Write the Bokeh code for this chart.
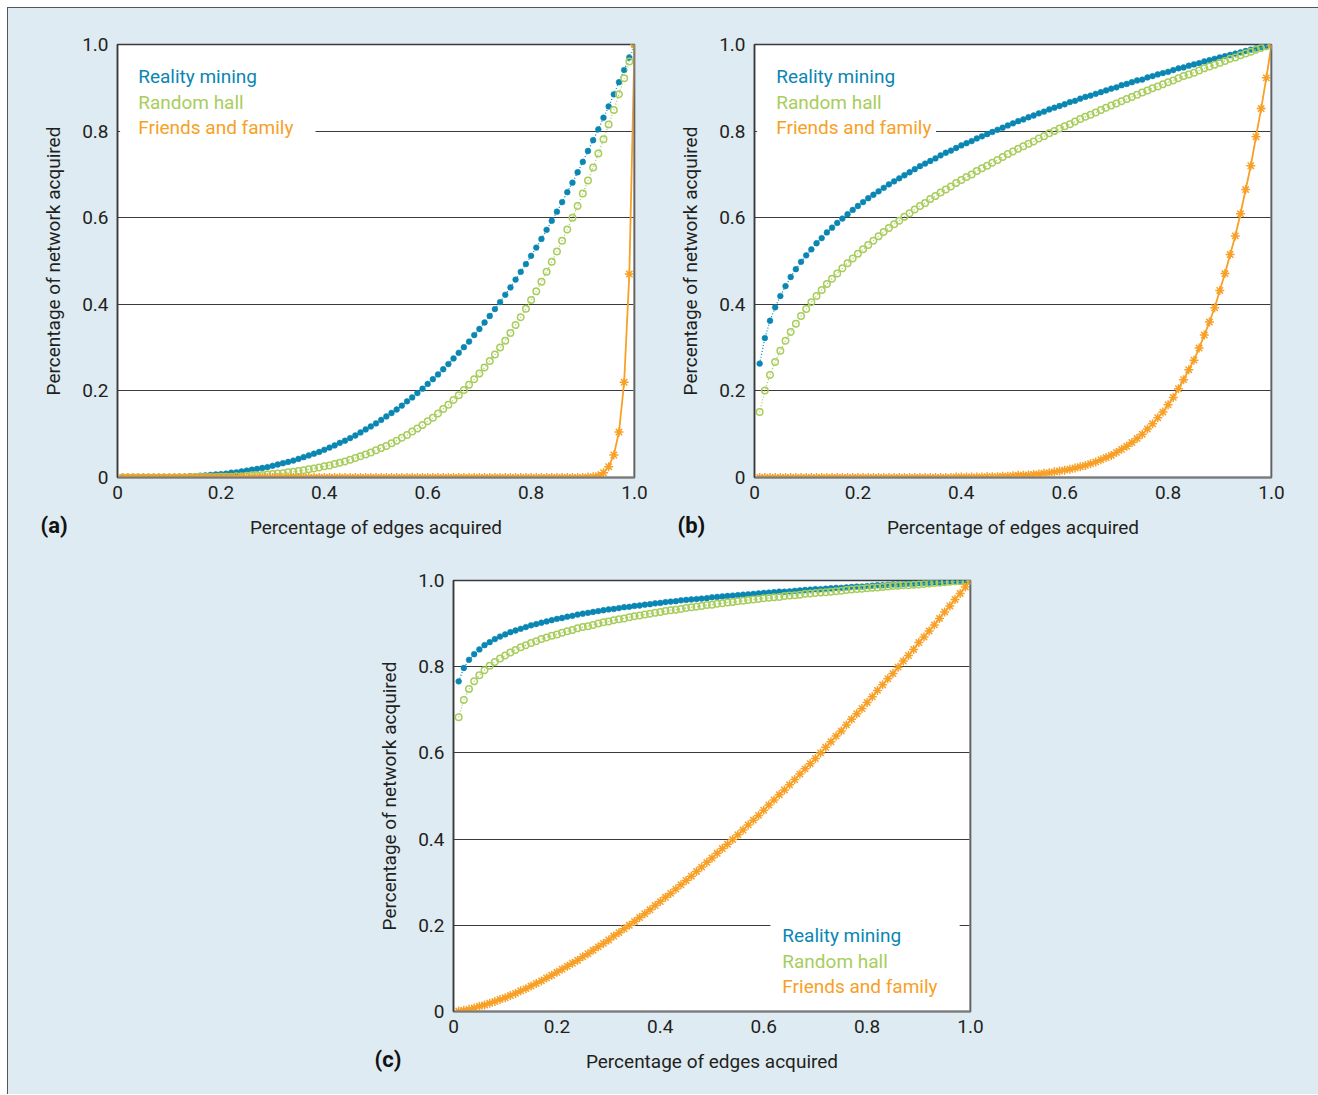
from bokeh.plotting import figure
from bokeh.layouts import row, column
from bokeh.models import (Range1d, FixedTicker, PrintfTickFormatter, Label,
                          BoxAnnotation, Span, Spacer, Title)
from bokeh.embed import file_html
from bokeh.resources import INLINE

# ---------------- data ----------------
X = [i / 100 for i in range(1, 101)]

TICKS = [0, 0.2, 0.4, 0.6, 0.8, 1.0]
TICK_LABELS = ["0", "0.2", "0.4", "0.6", "0.8", "1.0"]
GRID_TICKS = [0.2, 0.4, 0.6, 0.8]
SERIES = ["Reality mining", "Random hall", "Friends and family"]

a_reality = [
    0.000, 0.000, 0.000, 0.000, 0.000, 0.000, 0.000, 0.001, 0.001, 0.001,
    0.001, 0.002, 0.002, 0.003, 0.003, 0.004, 0.005, 0.006, 0.007, 0.008,
    0.009, 0.011, 0.012, 0.014, 0.016, 0.018, 0.020, 0.022, 0.024, 0.027,
    0.030, 0.033, 0.036, 0.039, 0.043, 0.047, 0.051, 0.055, 0.059, 0.064,
    0.069, 0.074, 0.080, 0.085, 0.091, 0.097, 0.104, 0.111, 0.118, 0.125,
    0.133, 0.141, 0.149, 0.157, 0.166, 0.176, 0.185, 0.195, 0.205, 0.216,
    0.227, 0.238, 0.250, 0.262, 0.275, 0.288, 0.301, 0.314, 0.329, 0.343,
    0.358, 0.373, 0.389, 0.405, 0.422, 0.439, 0.457, 0.475, 0.493, 0.512,
    0.531, 0.551, 0.572, 0.593, 0.614, 0.636, 0.659, 0.681, 0.705, 0.729,
    0.754, 0.779, 0.804, 0.831, 0.857, 0.885, 0.913, 0.941, 0.970, 1.000]
a_random = [
    0.000, 0.000, 0.000, 0.000, 0.000, 0.000, 0.000, 0.000, 0.000, 0.000,
    0.000, 0.000, 0.000, 0.000, 0.001, 0.001, 0.001, 0.001, 0.001, 0.002,
    0.002, 0.002, 0.003, 0.003, 0.004, 0.005, 0.005, 0.006, 0.007, 0.008,
    0.009, 0.010, 0.012, 0.013, 0.015, 0.017, 0.019, 0.021, 0.023, 0.026,
    0.028, 0.031, 0.034, 0.037, 0.041, 0.045, 0.049, 0.053, 0.058, 0.063,
    0.068, 0.073, 0.079, 0.085, 0.092, 0.098, 0.106, 0.113, 0.121, 0.130,
    0.138, 0.148, 0.158, 0.168, 0.179, 0.190, 0.202, 0.214, 0.227, 0.240,
    0.254, 0.269, 0.284, 0.300, 0.316, 0.334, 0.352, 0.370, 0.390, 0.410,
    0.430, 0.452, 0.475, 0.498, 0.522, 0.547, 0.573, 0.600, 0.627, 0.656,
    0.686, 0.716, 0.748, 0.781, 0.815, 0.849, 0.885, 0.922, 0.961, 1.000]
a_friends = [
    0.000, 0.000, 0.000, 0.000, 0.000, 0.000, 0.000, 0.000, 0.000, 0.000,
    0.000, 0.000, 0.000, 0.000, 0.000, 0.000, 0.000, 0.000, 0.000, 0.000,
    0.000, 0.000, 0.000, 0.000, 0.000, 0.000, 0.000, 0.000, 0.000, 0.000,
    0.000, 0.000, 0.000, 0.000, 0.000, 0.000, 0.000, 0.000, 0.000, 0.000,
    0.000, 0.000, 0.000, 0.000, 0.000, 0.000, 0.000, 0.000, 0.000, 0.000,
    0.000, 0.000, 0.000, 0.000, 0.000, 0.000, 0.000, 0.000, 0.000, 0.000,
    0.000, 0.000, 0.000, 0.000, 0.000, 0.000, 0.000, 0.000, 0.000, 0.000,
    0.000, 0.000, 0.000, 0.000, 0.000, 0.000, 0.000, 0.000, 0.000, 0.000,
    0.000, 0.000, 0.000, 0.000, 0.000, 0.000, 0.000, 0.000, 0.000, 0.000,
    0.001, 0.002, 0.004, 0.011, 0.025, 0.052, 0.105, 0.220, 0.470, 1.000]

b_reality = [
    0.263, 0.322, 0.362, 0.393, 0.419, 0.442, 0.463, 0.481, 0.498, 0.513,
    0.527, 0.541, 0.553, 0.566, 0.577, 0.588, 0.598, 0.608, 0.618, 0.627,
    0.636, 0.645, 0.653, 0.661, 0.669, 0.677, 0.684, 0.691, 0.698, 0.705,
    0.712, 0.719, 0.725, 0.731, 0.737, 0.744, 0.750, 0.755, 0.761, 0.767,
    0.772, 0.777, 0.783, 0.788, 0.793, 0.798, 0.803, 0.808, 0.813, 0.818,
    0.823, 0.827, 0.832, 0.836, 0.841, 0.845, 0.850, 0.854, 0.858, 0.862,
    0.867, 0.870, 0.875, 0.879, 0.882, 0.886, 0.890, 0.894, 0.898, 0.901,
    0.906, 0.909, 0.913, 0.917, 0.919, 0.924, 0.927, 0.931, 0.934, 0.937,
    0.941, 0.945, 0.947, 0.951, 0.954, 0.957, 0.961, 0.964, 0.967, 0.970,
    0.973, 0.976, 0.979, 0.982, 0.985, 0.988, 0.991, 0.994, 0.997, 1.000]
b_random = [
    0.151, 0.201, 0.237, 0.267, 0.293, 0.316, 0.336, 0.355, 0.373, 0.389,
    0.405, 0.419, 0.433, 0.447, 0.459, 0.471, 0.483, 0.495, 0.506, 0.517,
    0.527, 0.537, 0.547, 0.557, 0.567, 0.576, 0.585, 0.593, 0.602, 0.610,
    0.619, 0.627, 0.634, 0.643, 0.650, 0.658, 0.665, 0.672, 0.680, 0.687,
    0.694, 0.700, 0.708, 0.714, 0.720, 0.727, 0.733, 0.740, 0.747, 0.753,
    0.759, 0.765, 0.771, 0.776, 0.783, 0.788, 0.795, 0.800, 0.806, 0.811,
    0.816, 0.822, 0.828, 0.833, 0.838, 0.843, 0.849, 0.854, 0.859, 0.864,
    0.869, 0.874, 0.879, 0.884, 0.889, 0.894, 0.899, 0.903, 0.908, 0.913,
    0.917, 0.922, 0.927, 0.931, 0.935, 0.940, 0.945, 0.949, 0.953, 0.958,
    0.962, 0.967, 0.970, 0.975, 0.979, 0.983, 0.988, 0.992, 0.996, 1.000]
b_friends = [
    0.000, 0.000, 0.000, 0.000, 0.000, 0.000, 0.000, 0.000, 0.000, 0.000,
    0.000, 0.000, 0.000, 0.000, 0.000, 0.000, 0.000, 0.000, 0.000, 0.000,
    0.000, 0.000, 0.000, 0.000, 0.000, 0.000, 0.000, 0.000, 0.000, 0.000,
    0.000, 0.000, 0.000, 0.000, 0.000, 0.000, 0.000, 0.000, 0.001, 0.001,
    0.001, 0.001, 0.001, 0.001, 0.002, 0.002, 0.002, 0.003, 0.003, 0.004,
    0.005, 0.005, 0.006, 0.007, 0.008, 0.010, 0.011, 0.013, 0.015, 0.017,
    0.019, 0.022, 0.025, 0.028, 0.032, 0.036, 0.041, 0.046, 0.051, 0.058,
    0.065, 0.072, 0.081, 0.090, 0.100, 0.112, 0.124, 0.138, 0.151, 0.168,
    0.185, 0.205, 0.226, 0.249, 0.271, 0.299, 0.329, 0.359, 0.392, 0.432,
    0.471, 0.515, 0.558, 0.609, 0.665, 0.720, 0.787, 0.852, 0.923, 1.000]

c_reality = [
    0.766, 0.797, 0.816, 0.829, 0.840, 0.850, 0.857, 0.864, 0.870, 0.875,
    0.880, 0.884, 0.888, 0.892, 0.896, 0.899, 0.902, 0.905, 0.908, 0.911,
    0.913, 0.916, 0.918, 0.921, 0.923, 0.925, 0.927, 0.929, 0.931, 0.933,
    0.934, 0.936, 0.938, 0.939, 0.941, 0.942, 0.944, 0.945, 0.947, 0.948,
    0.950, 0.951, 0.952, 0.954, 0.955, 0.956, 0.957, 0.958, 0.959, 0.961,
    0.962, 0.963, 0.964, 0.965, 0.966, 0.967, 0.968, 0.969, 0.970, 0.971,
    0.972, 0.973, 0.974, 0.974, 0.975, 0.976, 0.977, 0.978, 0.979, 0.980,
    0.980, 0.981, 0.982, 0.983, 0.983, 0.984, 0.985, 0.986, 0.986, 0.987,
    0.988, 0.989, 0.989, 0.990, 0.991, 0.991, 0.992, 0.993, 0.993, 0.994,
    0.995, 0.995, 0.996, 0.996, 0.997, 0.998, 0.998, 0.999, 0.999, 1.000]
c_random = [
    0.683, 0.723, 0.748, 0.766, 0.780, 0.792, 0.802, 0.811, 0.819, 0.826,
    0.833, 0.839, 0.845, 0.850, 0.855, 0.859, 0.864, 0.868, 0.872, 0.875,
    0.879, 0.882, 0.885, 0.889, 0.892, 0.894, 0.897, 0.900, 0.903, 0.905,
    0.908, 0.910, 0.912, 0.915, 0.917, 0.919, 0.921, 0.923, 0.925, 0.927,
    0.929, 0.931, 0.932, 0.934, 0.936, 0.938, 0.939, 0.941, 0.943, 0.944,
    0.946, 0.947, 0.949, 0.950, 0.952, 0.953, 0.955, 0.956, 0.957, 0.959,
    0.960, 0.961, 0.962, 0.964, 0.965, 0.966, 0.967, 0.969, 0.970, 0.971,
    0.972, 0.973, 0.974, 0.975, 0.976, 0.978, 0.979, 0.980, 0.981, 0.982,
    0.983, 0.984, 0.985, 0.986, 0.987, 0.988, 0.989, 0.989, 0.990, 0.991,
    0.992, 0.993, 0.994, 0.995, 0.996, 0.997, 0.998, 0.998, 0.999, 1.000]
c_friends = [
    0.001, 0.003, 0.005, 0.008, 0.012, 0.015, 0.019, 0.023, 0.028, 0.032,
    0.037, 0.042, 0.048, 0.053, 0.059, 0.065, 0.071, 0.078, 0.084, 0.091,
    0.098, 0.105, 0.112, 0.119, 0.127, 0.134, 0.142, 0.150, 0.158, 0.166,
    0.175, 0.183, 0.192, 0.200, 0.209, 0.218, 0.227, 0.236, 0.246, 0.255,
    0.265, 0.274, 0.284, 0.294, 0.304, 0.314, 0.325, 0.335, 0.346, 0.356,
    0.367, 0.378, 0.388, 0.399, 0.410, 0.421, 0.433, 0.444, 0.455, 0.467,
    0.479, 0.491, 0.503, 0.514, 0.526, 0.538, 0.551, 0.563, 0.575, 0.587,
    0.600, 0.613, 0.626, 0.639, 0.651, 0.665, 0.678, 0.691, 0.703, 0.717,
    0.730, 0.745, 0.758, 0.772, 0.784, 0.799, 0.813, 0.826, 0.840, 0.856,
    0.869, 0.883, 0.897, 0.912, 0.927, 0.941, 0.956, 0.970, 0.985, 1.000]

# ---------------- styling ----------------
BG = "#deebf2"
BLUE = "#0a86b2"
GREEN = "#a8cd5c"
ORANGE = "#f8a026"
TEXT = "#231f20"
FONT = "Roboto"
FS = "19px"


def make_panel(width, height, left, right, top, bottom,
               reality, random_, friends, legend_xy, box, tag, tag_offset):
    p = figure(width=width, height=height, output_backend="svg",
               toolbar_location=None,
               x_range=Range1d(0, 1), y_range=Range1d(0, 1),
               min_border_left=left, min_border_right=right,
               min_border_top=top, min_border_bottom=bottom)
    p.background_fill_color = "white"
    p.border_fill_color = BG
    p.outline_line_color = "#3a3a3a"
    p.outline_line_width = 1.5

    overrides = dict(zip(TICKS, TICK_LABELS))
    for ax in (p.xaxis[0], p.yaxis[0]):
        ax.ticker = FixedTicker(ticks=TICKS)
        ax.formatter = PrintfTickFormatter(format="%.1f")
        ax.major_label_overrides = overrides
        ax.major_tick_out = 0
        ax.major_tick_in = 0
        ax.minor_tick_out = 0
        ax.minor_tick_in = 0
        ax.major_label_text_font = FONT
        ax.major_label_text_font_size = FS
        ax.major_label_text_color = TEXT
        ax.axis_label_text_font = FONT
        ax.axis_label_text_font_size = FS
        ax.axis_label_text_font_style = "normal"
        ax.axis_label_text_color = TEXT
    p.xaxis.axis_label = "Percentage of edges acquired"
    p.yaxis.axis_label = "Percentage of network acquired"
    p.xaxis.axis_line_color = "#7a7a7a"
    p.xaxis.axis_line_width = 2
    p.yaxis.axis_line_color = "#3a3a3a"
    p.yaxis.axis_line_width = 1.5
    p.xaxis.major_label_standoff = 8
    p.xaxis.axis_label_standoff = 14
    p.yaxis.major_label_standoff = 9
    p.yaxis.axis_label_standoff = 14

    p.xgrid.grid_line_color = None
    p.ygrid.ticker = FixedTicker(ticks=GRID_TICKS)
    p.ygrid.grid_line_color = "#3a3a3a"
    p.ygrid.grid_line_width = 1

    p.add_layout(Span(location=1, dimension="height",
                      line_color="#8a8a8a", line_width=2.5))

    # series
    p.line(X, reality, line_color=BLUE, line_dash="1 2", line_width=1.3)
    p.scatter(X, reality, marker="circle", size=5.8,
              fill_color=BLUE, line_color=BLUE, line_width=0.5)
    p.line(X, random_, line_color=GREEN, line_dash="1 2", line_width=1.3)
    p.scatter(X, random_, marker="circle", size=6.5, fill_color=None,
              line_color=GREEN, line_width=1.5)
    p.line(X, friends, line_color=ORANGE, line_width=1.8)
    p.scatter(X, friends, marker="asterisk", size=9,
              line_color=ORANGE, line_width=1.5)

    # legend box (white, interrupts grid line) and coloured texts
    p.add_layout(BoxAnnotation(left=box[0], right=box[1], bottom=box[2],
                               top=box[3], fill_color="white", fill_alpha=1,
                               line_color=None))
    lx, ly, dy = legend_xy
    for i, (name, col) in enumerate(zip(SERIES, [BLUE, GREEN, ORANGE])):
        p.add_layout(Label(x=lx, y=ly - i * dy, text=name, text_color=col,
                           text_font=FONT, text_font_size=FS,
                           text_align="left", text_baseline="middle"))
    # panel tag, placed in the bottom side panel next to the axis title
    p.add_layout(Title(text=tag, align="left", offset=tag_offset,
                       vertical_align="top", standoff=-58,
                       text_color="#111111", text_font=FONT,
                       text_font_size="22px", text_font_style="bold"),
                 "below")
    return p


pa = make_panel(662, 542, 109, 36, 36, 73,
                a_reality, a_random, a_friends,
                (0.040, 0.926, 0.059), (0.005, 0.383, 0.765, 0.975),
                "(a)", -77)
pb = make_panel(648, 542, 84, 47, 36, 73,
                b_reality, b_random, b_friends,
                (0.042, 0.926, 0.059), (0.005, 0.351, 0.775, 0.975),
                "(b)", -77)
pc = make_panel(682, 544, 109, 56, 30, 83,
                c_reality, c_random, c_friends,
                (0.636, 0.176, 0.059), (0.613, 0.979, 0.03, 0.222),
                "(c)", -79)

r1 = row(pa, pb, spacing=0)
r2 = row(Spacer(width=336, height=544), pc, spacing=0)
layout = column(r1, r2, spacing=0, margin=(7, 0, 0, 7),
                styles={"background-color": BG,
                        "border-top": "1px solid #555555",
                        "border-left": "1px solid #555555"})

open("out.html", "w").write(file_html(layout, INLINE, title="Network acquisition"))
